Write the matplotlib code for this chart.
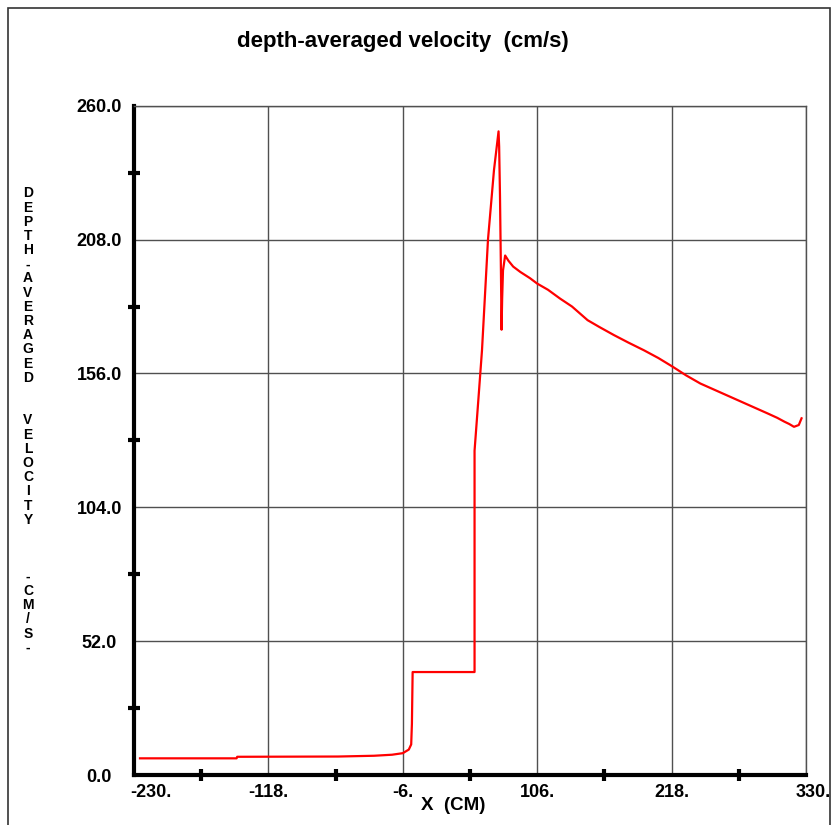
import matplotlib
matplotlib.use("Agg")
import matplotlib.pyplot as plt
import matplotlib.transforms as mtransforms
from matplotlib.patches import Rectangle

plt.rcParams['font.family'] = ['Liberation Sans', 'DejaVu Sans']

# depth-averaged velocity profile along the flume
x_cm = [-225, -144.5, -144, -60, -30, -15, -6, -1, 1, 1.6, 2.2, 53.8, 53.8, 57, 60, 65, 70, 73.8,
        74.3, 75, 75.8, 76.3, 76.8, 77.5, 79.3, 82, 86, 92, 100, 106, 115, 125, 135, 148, 158, 170,
        182, 195, 207, 219, 230, 242, 256, 270, 284, 298, 306, 312, 316, 320, 324, 326.3]
vel = [6.6, 6.6, 7.2, 7.3, 7.6, 8.0, 8.6, 10.0, 12.0, 20.0, 40.1, 40.1, 126.0, 146.0, 165.0, 208.0, 235.0, 250.0,
       244.0, 225.0, 195.0, 173.0, 185.0, 196.0, 201.8, 199.8, 197.5, 195.4, 193.0, 190.9, 188.5, 185.1, 182.0, 176.7, 174.0, 170.9,
       168.0, 165.0, 162.0, 158.6, 155.3, 152.1, 149.2, 146.3, 143.4, 140.5, 138.8, 137.3, 136.4, 135.3, 136.0, 138.6]

x_major = [-230, -118, -6, 106, 218, 330]
x_minor = [-174, -62, 50, 162, 274]
x_labels = ['-230.', '-118.', '-6.', '106.', '218.', '330.']
y_major = [0, 52, 104, 156, 208, 260]
y_minor = [26, 78, 130, 182, 234]
y_labels = ['0.0', '52.0', '104.0', '156.0', '208.0', '260.0']

ylabel_chars = "DEPTH-AVERAGED  VELOCITY   -CM/S-"

fig = plt.figure(figsize=(8.38, 8.25), dpi=100)
ax = fig.add_axes([0.1599, 0.0602, 0.8019, 0.8118])

ax.plot(x_cm, vel, color='#ff0000', lw=1.6, solid_joinstyle='round')

ax.set_xlim(-230, 330)
ax.set_ylim(0, 260)

ax.set_xticks(x_major)
ax.set_xticklabels(x_labels)
ax.set_xticks(x_minor, minor=True)
ax.set_yticks(y_major)
ax.set_yticklabels(y_labels)
ax.set_yticks(y_minor, minor=True)

ax.grid(True, which='major', color='#505050', lw=1.0)
ax.tick_params(which='major', length=0, labelsize=13)
ax.tick_params(axis='x', which='major', pad=6)
ax.tick_params(axis='y', which='major', pad=25)
ax.tick_params(which='minor', direction='inout', length=8, width=3, color='black')
for lab in ax.get_xticklabels() + ax.get_yticklabels():
    lab.set_fontweight('bold')
for lab in ax.get_yticklabels():
    lab.set_horizontalalignment('center')

# nudge the end labels of the x axis
xl = ax.get_xticklabels()
xl[0].set_transform(xl[0].get_transform() + mtransforms.ScaledTranslation(0.17, 0, fig.dpi_scale_trans))
xl[-1].set_transform(xl[-1].get_transform() + mtransforms.ScaledTranslation(0.07, 0, fig.dpi_scale_trans))

for side in ('left', 'bottom'):
    ax.spines[side].set_linewidth(3)
    ax.spines[side].set_color('black')
for side in ('top', 'right'):
    ax.spines[side].set_linewidth(1.0)
    ax.spines[side].set_color('#505050')

fig.text(0.481, 0.950, 'depth-averaged velocity  (cm/s)', ha='center', va='center',
         fontsize=16, fontweight='bold')
fig.text(0.5406, 0.0242, 'X  (CM)', ha='center', va='center', fontsize=13.5, fontweight='bold')

# stacked vertical axis title, one character per line
y0 = 193.3
for i, ch in enumerate(ylabel_chars):
    if ch == ' ':
        continue
    fig.text(28 / 838, 1 - (y0 + i * 14.2) / 825, ch, ha='center', va='center',
             fontsize=10, fontweight='bold')

# frame around the whole figure
fig.patches.append(Rectangle((8 / 838, -0.02), 822 / 838, 1 - 8 / 825 + 0.02,
                             transform=fig.transFigure, fill=False, edgecolor='#333333', lw=1.2))

fig.savefig('out.png', dpi=100)
